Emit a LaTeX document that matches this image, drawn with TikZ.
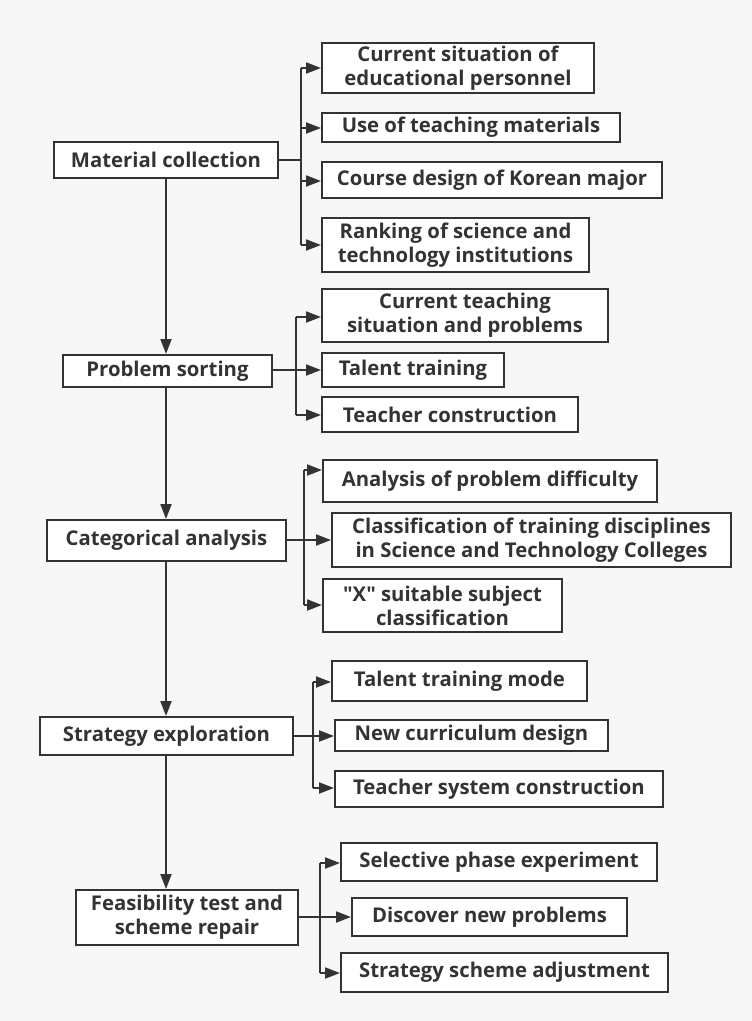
\documentclass[tikz,border=0pt]{standalone}
\usepackage{fontspec}
\setmainfont{Open Sans}[Ligatures=TeXOff]
\usetikzlibrary{arrows.meta}
\definecolor{bg}{HTML}{F7F7F7}
\definecolor{ink}{HTML}{333333}
\begin{document}
\begin{tikzpicture}[x=1pt,y=-1pt,
  box/.style={draw=ink,line width=2pt,fill=white,inner sep=0pt,align=center,
    font=\fontsize{20.3}{24}\selectfont\bfseries,text=ink},
  ln/.style={draw=ink,line width=2pt},
  arr/.style={ln,-{Triangle[length=15pt,width=11pt]}}]
\fill[bg] (0,0) rectangle (752,1021);
\useasboundingbox (0,0) rectangle (752,1021);
% main column
\node[box,minimum width=224pt,minimum height=36pt] (m1) at (166,160) {Material collection};
\node[box,minimum width=209pt,minimum height=32pt] (m2) at (167.5,371) {Problem sorting};
\node[box,minimum width=239pt,minimum height=41pt] (m3) at (166.5,540.5) {Categorical analysis};
\node[box,minimum width=253pt,minimum height=38pt] (m4) at (166.5,736) {Strategy exploration};
\node[box,minimum width=222pt,minimum height=55pt] (m5) at (187,917.5) {Feasibility test and\\scheme repair};
% group A
\node[box,minimum width=272pt,minimum height=50pt] (a1) at (458,68) {Current situation of\\educational personnel};
\node[box,minimum width=298pt,minimum height=29pt] (a2) at (471,127.5) {Use of teaching materials};
\node[box,minimum width=340pt,minimum height=36pt] (a3) at (492,180) {Course design of Korean major};
\node[box,minimum width=267pt,minimum height=54pt] (a4) at (455.5,245) {Ranking of science and\\technology institutions};
% group B
\node[box,minimum width=286pt,minimum height=53pt] (b1) at (465,315.5) {Current teaching\\situation and problems};
\node[box,minimum width=182pt,minimum height=34pt] (b2) at (413,370) {Talent training};
\node[box,minimum width=256pt,minimum height=35pt] (b3) at (450,414.5) {Teacher construction};
% group C
\node[box,minimum width=334pt,minimum height=42pt] (c1) at (490,481) {Analysis of problem difficulty};
\node[box,minimum width=399pt,minimum height=54pt] (c2) at (531.5,540) {Classification of training disciplines\\in Science and Technology Colleges};
\node[box,minimum width=239pt,minimum height=53pt] (c3) at (442.5,605.5) {"X" suitable subject\\classification};
% group D
\node[box,minimum width=255pt,minimum height=40pt] (d1) at (459.5,681) {Talent training mode};
\node[box,minimum width=273pt,minimum height=31pt] (d2) at (471.5,735.5) {New curriculum design};
\node[box,minimum width=328pt,minimum height=36pt] (d3) at (499,789) {Teacher system construction};
% group E
\node[box,minimum width=316pt,minimum height=38pt] (e1) at (499,862) {Selective phase experiment};
\node[box,minimum width=275pt,minimum height=38pt] (e2) at (489.5,917) {Discover new problems};
\node[box,minimum width=327pt,minimum height=39pt] (e3) at (504.5,972.5) {Strategy scheme adjustment};
% main arrows
\draw[arr] (m1.south) -- (m1.south |- m2.north);
\draw[arr] (m2.south -| m1.south) -- (m1.south |- m3.north);
\draw[arr] (m3.south -| m1.south) -- (m1.south |- m4.north);
\draw[arr] (m4.south -| m1.south) -- (m1.south |- m5.north);
% group A
\coordinate (ta1) at (301,68); \coordinate (ta2) at (301,128);
\coordinate (ta3) at (301,181); \coordinate (ta4) at (301,245);
\coordinate (tam) at (301,160);
\draw[ln] (ta1) -- (ta4);
\draw[ln] (m1.east) -- (tam);
\draw[arr] (ta1) -- (ta1 -| a1.west);
\draw[arr] (ta2) -- (ta2 -| a2.west);
\draw[arr] (ta3) -- (ta3 -| a3.west);
\draw[arr] (ta4) -- (ta4 -| a4.west);
% group B
\coordinate (tb1) at (296,317); \coordinate (tb3) at (296,415);
\coordinate (tbm) at (296,370);
\draw[ln] (tb1) -- (tb3);
\draw[arr] (m2.east |- tbm) -- (b2.west |- tbm);
\draw[arr] (tb1) -- (tb1 -| b1.west);
\draw[arr] (tb3) -- (tb3 -| b3.west);
% group C
\coordinate (tc1) at (304,470); \coordinate (tc3) at (304,605);
\coordinate (tcm) at (304,540);
\draw[ln] (tc1) -- (tc3);
\draw[arr] (m3.east |- tcm) -- (c2.west |- tcm);
\draw[arr] (tc1) -- (tc1 -| c1.west);
\draw[arr] (tc3) -- (tc3 -| c3.west);
% group D
\coordinate (td1) at (313,682); \coordinate (td3) at (313,788);
\coordinate (tdm) at (313,736);
\draw[ln] (td1) -- (td3);
\draw[arr] (m4.east |- tdm) -- (d2.west |- tdm);
\draw[arr] (td1) -- (td1 -| d1.west);
\draw[arr] (td3) -- (td3 -| d3.west);
% group E
\coordinate (te1) at (320,863); \coordinate (te3) at (320,973);
\coordinate (tem) at (320,917);
\draw[ln] (te1) -- (te3);
\draw[arr] (m5.east |- tem) -- (e2.west |- tem);
\draw[arr] (te1) -- (te1 -| e1.west);
\draw[arr] (te3) -- (te3 -| e3.west);
\end{tikzpicture}
\end{document}
